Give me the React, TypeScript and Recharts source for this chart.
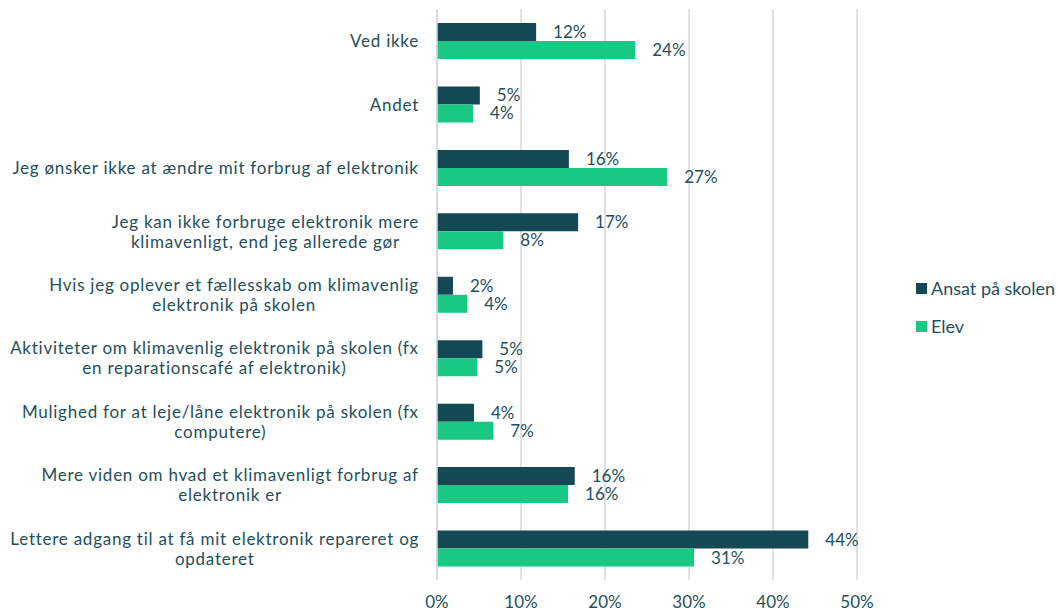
import { Bar, BarChart, CartesianGrid, LabelList, XAxis, YAxis } from "recharts";

const categories = [
  "Ved ikke",
  "Andet",
  "Jeg ønsker ikke at ændre mit forbrug af elektronik",
  "Jeg kan ikke forbruge elektronik mere\nklimavenligt, end jeg allerede gør",
  "Hvis jeg oplever et fællesskab om klimavenlig\nelektronik på skolen",
  "Aktiviteter om klimavenlig elektronik på skolen (fx\nen reparationscafé af elektronik)",
  "Mulighed for at leje/låne elektronik på skolen (fx\ncomputere)",
  "Mere viden om hvad et klimavenligt forbrug af\nelektronik er",
  "Lettere adgang til at få mit elektronik repareret og\nopdateret",
];
const ansat = [11.8, 5.1, 15.7, 16.8, 1.9, 5.4, 4.4, 16.4, 44.2];
const elev = [23.6, 4.3, 27.4, 7.9, 3.6, 4.8, 6.7, 15.6, 30.6];
const xTicks = [0, 10, 20, 30, 40, 50];
const seriesNames = ["Ansat på skolen", "Elev"];

const DARK = "#134854";
const GREEN = "#19c983";
const TEXT = "#1f4f5b";
const FONT = "Lato";
const FS = 17;
const LS = 0.75; // office-style wide letter spacing on the category labels

const data = categories.map((c, i) => ({ cat: c, ansat: ansat[i], elev: elev[i] }));

let ctx: CanvasRenderingContext2D | null = null;
function measure(s: string) {
  if (!ctx) ctx = document.createElement("canvas").getContext("2d");
  if (!ctx) return s.length * FS * 0.5;
  ctx.font = `${FS}px ${FONT}`;
  return ctx.measureText(s).width + s.length * LS;
}

function CatTick(props: any) {
  const { x, y, payload } = props;
  const lines = String(payload.value).split("\n");
  const w = Math.max(...lines.map(measure));
  const cx = x - w / 2;
  const lh = 20;
  const y0 = y - ((lines.length - 1) * lh) / 2;
  return (
    <g>
      {lines.map((l, i) => (
        <text
          key={i}
          x={cx}
          y={y0 + i * lh}
          textAnchor="middle"
          dominantBaseline="central"
          fill={TEXT}
          fontSize={FS}
          fontFamily={FONT}
          letterSpacing={LS}
        >
          {l}
        </text>
      ))}
    </g>
  );
}

const pct = (v: any) => `${Math.round(Number(v))}%`;

export default function App() {
  return (
    <div style={{ position: "absolute", left: 0, top: 0, width: 1059, height: 613, background: "#fff" }}>
      <BarChart
        width={1059}
        height={613}
        data={data}
        layout="vertical"
        margin={{ top: 9, right: 202, left: 0, bottom: 0 }}
        barSize={18}
        barGap={0}
      >
        <CartesianGrid horizontal={false} stroke="#d9d9d9" strokeWidth={1.5} />
        <XAxis
          type="number"
          domain={[0, 50]}
          ticks={xTicks}
          tickFormatter={(v) => `${v}%`}
          axisLine={false}
          tickLine={false}
          tickSize={0}
          tickMargin={16}
          height={33}
          tick={{ fill: TEXT, fontSize: FS, fontFamily: FONT }}
        />
        <YAxis
          type="category"
          dataKey="cat"
          width={437}
          axisLine={{ stroke: "#d9d9d9", strokeWidth: 1.5 }}
          tickLine={false}
          tickSize={0}
          tickMargin={18}
          interval={0}
          tick={<CatTick />}
        />
        <Bar dataKey="ansat" name={seriesNames[0]} fill={DARK} isAnimationActive={false}>
          <LabelList dataKey="ansat" position="right" offset={17} formatter={pct} fill={TEXT} fontSize={FS} fontFamily={FONT} />
        </Bar>
        <Bar dataKey="elev" name={seriesNames[1]} fill={GREEN} isAnimationActive={false}>
          <LabelList dataKey="elev" position="right" offset={17} formatter={pct} fill={TEXT} fontSize={FS} fontFamily={FONT} />
        </Bar>
      </BarChart>
      {seriesNames.map((n, i) => (
        <div
          key={n}
          style={{
            position: "absolute",
            left: 916,
            top: 277 + i * 38,
            display: "flex",
            alignItems: "center",
            fontFamily: FONT,
            fontSize: 18,
            color: TEXT,
            whiteSpace: "nowrap",
          }}
        >
          <span style={{ width: 11, height: 11, background: i === 0 ? DARK : GREEN, marginRight: 4, display: "inline-block" }} />
          {n}
        </div>
      ))}
    </div>
  );
}
